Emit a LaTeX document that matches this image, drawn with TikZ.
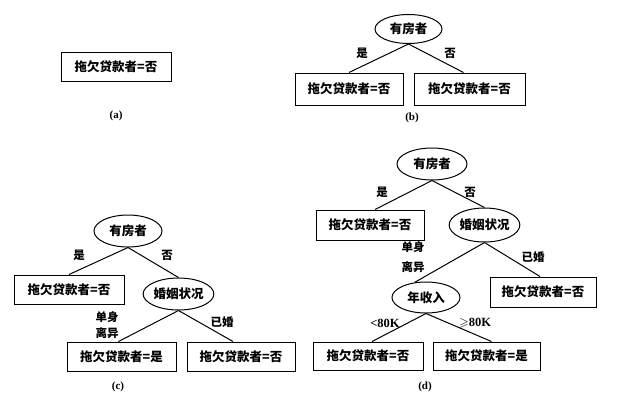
\documentclass[tikz,border=0pt]{standalone}
\usepackage{amssymb}
\usepackage{fontspec}
\setmainfont{Liberation Serif}
\newfontfamily\cjk{Noto Sans CJK SC}
\usetikzlibrary{shapes.geometric}
\tikzset{
  leaf/.style={draw, line width=1pt, rectangle, inner sep=0pt, font=\cjk\bfseries\fontsize{12.5}{14}\selectfont},
  test/.style={draw, line width=1pt, ellipse, inner sep=0pt, font=\cjk\bfseries\fontsize{12.5}{14}\selectfont},
  lbl/.style={font=\cjk\bfseries\fontsize{11.5}{14}\selectfont, inner sep=0pt},
  latlbl/.style={font=\bfseries\fontsize{12.5}{14}\selectfont, inner sep=0pt},
  subcap/.style={font=\bfseries\fontsize{11}{12}\selectfont, inner sep=0pt},
  conn/.style={line width=1pt}
}
\begin{document}
\begin{tikzpicture}[x=1pt,y=-1pt]
\useasboundingbox (0,0) rectangle (643,408);
% (a)
\node[leaf, minimum width=110pt, minimum height=29pt] (a1) at (116,66.5) {拖欠贷款者=否};
\node[subcap] (ca) at (116,116) {(a)};
% (b)
\node[test, minimum width=67pt, minimum height=29pt] (b0) at (408.5,29) {有房者};
\node[leaf, minimum width=108pt, minimum height=32pt] (b1) at (349,89) {拖欠贷款者=否};
\node[leaf, minimum width=111pt, minimum height=32pt] (b2) at (469.5,89) {拖欠贷款者=否};
\draw[conn] (b0.south) -- (b1.north);
\draw[conn] (b0.south) -- ([xshift=-6pt]b2.north);
\node[lbl] (by) at (362,53) {是};
\node[lbl] (bn) at (450,53) {否};
\node[subcap] (cb) at (412,118) {(b)};
% (c)
\node[test, minimum width=68pt, minimum height=32pt] (c0) at (128,231) {有房者};
\node[leaf, minimum width=110pt, minimum height=29pt] (c1) at (69,289.5) {拖欠贷款者=否};
\node[test, minimum width=63pt, minimum height=32pt] (c2) at (178.5,294) {婚姻状况};
\node[leaf, minimum width=109pt, minimum height=29pt] (c3) at (121.5,356.5) {拖欠贷款者=是};
\node[leaf, minimum width=108pt, minimum height=29pt] (c4) at (241,356.5) {拖欠贷款者=否};
\draw[conn] (c0.south) -- (c1.north);
\draw[conn] (c0.south) -- (c2.north);
\draw[conn] (c2.south) -- ([xshift=-3pt]c3.north);
\draw[conn] (c2.south) -- ([xshift=-8pt]c4.north);
\node[lbl] (cy) at (79,255) {是};
\node[lbl] (cn) at (167,255) {否};
\node[lbl] (cs1) at (107,317) {单身};
\node[lbl] (cs2) at (107,333) {离异};
\node[lbl] (cm) at (222,322) {已婚};
\node[subcap] (cc) at (118,387) {(c)};
% (d)
\node[test, minimum width=70pt, minimum height=32pt] (d0) at (432,164) {有房者};
\node[leaf, minimum width=108pt, minimum height=30pt] (d1) at (370,225) {拖欠贷款者=否};
\node[test, minimum width=67pt, minimum height=34pt] (d2) at (484.5,225) {婚姻状况};
\node[leaf, minimum width=106pt, minimum height=30pt] (d3) at (543,292) {拖欠贷款者=否};
\node[test, minimum width=68pt, minimum height=31pt] (d4) at (426,297.5) {年收入};
\node[leaf, minimum width=110pt, minimum height=28pt] (d5) at (368,356) {拖欠贷款者=否};
\node[leaf, minimum width=107pt, minimum height=28pt] (d6) at (486.5,356) {拖欠贷款者=是};
\draw[conn] (d0.south) -- ([xshift=5pt]d1.north);
\draw[conn] (d0.south) -- (d2.north);
\draw[conn] (d2.south) -- (d4.127);
\draw[conn] (d2.south) -- ([xshift=-3pt]d3.north);
\draw[conn] (d4.south) -- ([xshift=4pt]d5.north);
\draw[conn] (d4.south) -- ([xshift=5pt]d6.north);
\node[lbl] (dy) at (382,192) {是};
\node[lbl] (dn) at (470,192) {否};
\node[lbl] (ds1) at (413,247) {单身};
\node[lbl] (ds2) at (413,267) {离异};
\node[lbl] (dm) at (533,257) {已婚};
\node[latlbl] (dl) at (385,323) {<80K};
\node[latlbl] (dg) at (475,323) {$\geqslant$80K};
\node[subcap] (cd) at (425,387) {(d)};
\end{tikzpicture}
\end{document}
